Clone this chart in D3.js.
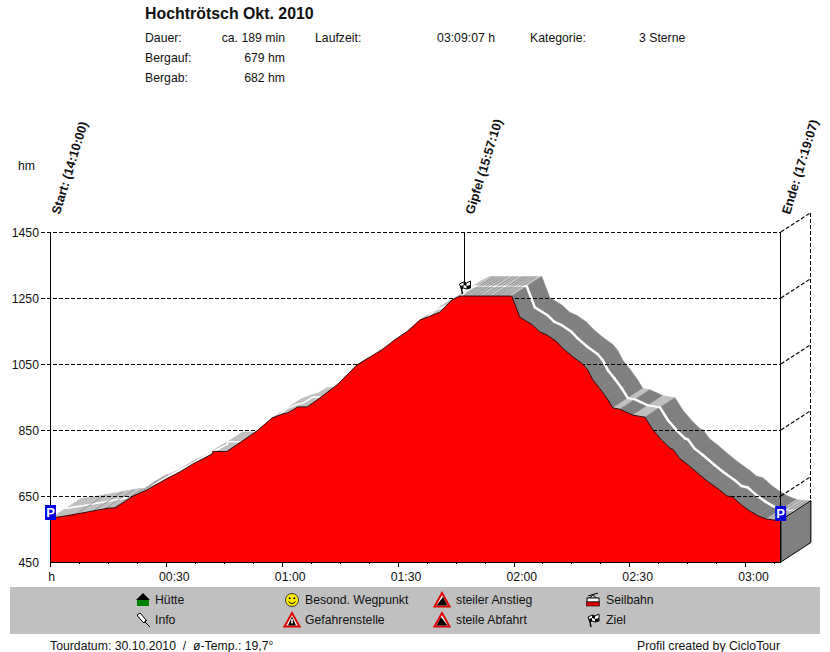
<!DOCTYPE html>
<html><head><meta charset="utf-8">
<script src="https://cdn.jsdelivr.net/npm/d3@7/dist/d3.min.js"></script>
<style>html,body{margin:0;padding:0;background:#fff}svg{display:block}text{font-family:"Liberation Sans",Arial,sans-serif;font-size:12.25px;fill:#111}</style>
</head><body><svg id="c" width="830" height="652"></svg>
<script>
const minutes=[0,4,8.4,12,15.4,16.6,19.2,21.3,24.9,30.1,33.5,36.8,39.5,41.8,42,45.6,48.2,53.4,57.3,59.9,61.4,64,66.4,69,74.1,79.3,82.7,86,89.1,92.5,95.6,98.2,100.8,103.9,106,119.4,121.5,124.8,126.6,128.5,131,132.6,135.2,137.8,139.1,140.4,142.2,144,145.6,147.4,150.8,153.9,156,158.2,160.4,161.2,162.9,165.1,168.1,170.3,173.3,175,176.7,178.9,181,183.2,185.4,187.5,189.1];
const elevation=[583,590,599,607,614,614,633,650,668,703,723,747,763,777,785,785,805,847,886,898,902,920,920,941,986,1047,1071,1095,1123,1150,1183,1195,1207,1244,1256,1256,1192,1168,1148,1138,1118,1098,1072,1050,1032,1002,976,947,917,913,895,889,850,820,795,791,764,744,714,693,668,651,646,623,605,590,580,577,577];
const streakMinutes=[6.5,11,14,16.2,20,22.5,46.5,50,107,107.8,108.7,109.5,110.5,112,113,114.5,115.3,116,117,118,186,187.2,188.2];
const yTicks=[450,650,850,1050,1250,1450];
const xLabels=[["h",0],["00:30",30],["01:00",60],["01:30",90],["02:00",120],["02:30",150],["03:00",180]];
const minorTicks=d3.range(0,189,7.5);
const endMinute=189.12, summitMinute=107.2;
const eventLabels=[["Start: (14:10:00)",0],["Gipfel (15:57:10)",summitMinute],["Ende: (17:19:07)",endMinute]];
const headerLeft=[["Dauer:","ca. 189 min"],["Bergauf:","679 hm"],["Bergab:","682 hm"]];
const headerExtra=[["Laufzeit:","03:09:07 h"],["Kategorie:","3 Sterne"]];
const legendItems=[["Hütte","hut"],["Info","pin"],["Besond. Wegpunkt","smile"],["Gefahrenstelle","danger"],["steiler Anstieg","up"],["steile Abfahrt","down"],["Seilbahn","cable"],["Ziel","flag"]];

const svg=d3.select("#c");
const x=d3.scaleLinear().domain([0,endMinute]).range([50.7,780.9]);
const y=d3.scaleLinear().domain([450,1450]).range([562,232]);
const DX=30,DY=-19.5;
const pts=minutes.map((m,i)=>({m,e:elevation[i],x:x(m),y:y(elevation[i])}));
const profileAt=d3.scaleLinear().domain(minutes).range(elevation);
const isLight=(a,b)=>(b.y-a.y)/(b.x-a.x)<0.2;

// ribbon segments
const ribbon=svg.append("g");
d3.pairs(pts).forEach(([a,b])=>{
  const c=isLight(a,b)?"#c0c0c0":"#808080";
  ribbon.append("path")
   .attr("d",`M${a.x},${a.y}L${b.x},${b.y}L${b.x+DX},${b.y+DY}L${a.x+DX},${a.y+DY}Z`)
   .attr("fill",c).attr("stroke",c).attr("stroke-width",0.6);
});
// centre track
d3.pairs(pts).forEach(([a,b])=>{
  svg.append("line").attr("x1",a.x+DX/2).attr("y1",a.y+DY/2).attr("x2",b.x+DX/2).attr("y2",b.y+DY/2)
   .attr("stroke","#fff").attr("stroke-linecap","round").attr("stroke-width",isLight(a,b)?1.6:2.5);
});
streakMinutes.forEach(m=>{
  const px=x(m),py=y(profileAt(m));
  svg.append("line").attr("x1",px).attr("y1",py).attr("x2",px+DX).attr("y2",py+DY)
   .attr("stroke","#8c8c8c").attr("stroke-width",0.8);
});

// grid
const grid=svg.append("g").attr("shape-rendering","crispEdges");
yTicks.slice(1).forEach(v=>{
  grid.append("line").attr("x1",41).attr("x2",x(endMinute)).attr("y1",y(v)).attr("y2",y(v))
   .attr("stroke","#000").attr("stroke-dasharray","4,2");
});
yTicks.slice(1).forEach(v=>{
  svg.append("line").attr("x1",x(endMinute)).attr("y1",y(v)).attr("x2",x(endMinute)+DX).attr("y2",y(v)+DY)
   .attr("stroke","#000").attr("stroke-dasharray","4,2").attr("stroke-width",1.1);
});
grid.append("line").attr("x1",x(endMinute)+DX).attr("x2",x(endMinute)+DX).attr("y1",y(1450)+DY).attr("y2",y(450)+DY)
  .attr("stroke","#000").attr("stroke-dasharray","4,2");

// red area
svg.append("path").attr("fill","#ff0000")
 .attr("d",d3.area().x(d=>d.x).y0(y(450)).y1(d=>d.y)(pts));
svg.append("path").attr("fill","none").attr("stroke","#200000").attr("stroke-width",0.9)
 .attr("d",d3.line().x(d=>d.x).y(d=>d.y)(pts));

// end wall
const ex=x(endMinute), ee=elevation[elevation.length-1];
svg.append("path").attr("fill","#808080").attr("stroke","#000")
 .attr("d",`M${ex},${y(450)}L${ex+DX},${y(450)+DY}L${ex+DX},${y(ee)+DY}L${ex},${y(ee)}Z`);

// axes
const ax=svg.append("g").attr("shape-rendering","crispEdges");
ax.append("line").attr("x1",x(0)).attr("x2",x(0)).attr("y1",y(1450)).attr("y2",y(450)+5).attr("stroke","#000");
ax.append("line").attr("x1",ex).attr("x2",ex).attr("y1",y(1450)).attr("y2",y(450)).attr("stroke","#000");
ax.append("line").attr("x1",x(0)).attr("x2",ex).attr("y1",y(450)).attr("y2",y(450)).attr("stroke","#000");
minorTicks.forEach(m=>ax.append("line").attr("x1",x(m)).attr("x2",x(m)).attr("y1",y(450)).attr("y2",y(450)+2).attr("stroke","#000"));
xLabels.forEach(([t,m])=>{
  if(m>0) ax.append("line").attr("x1",x(m)).attr("x2",x(m)).attr("y1",y(450)).attr("y2",y(450)+5).attr("stroke","#000");
  svg.append("text").attr("x",x(m)-(m>0?7.5:2.5)).attr("y",581).text(t);
});
yTicks.forEach(v=>svg.append("text").attr("x",39).attr("y",y(v)+4.5).attr("text-anchor","end").text(v));
svg.append("text").attr("x",18).attr("y",170).text("hm");

// summit stem
ax.append("line").attr("x1",x(summitMinute)).attr("x2",x(summitMinute)).attr("y1",y(1450)).attr("y2",282).attr("stroke","#000");

// event labels
eventLabels.forEach(([t,m])=>{
  svg.append("text").attr("transform",`translate(${x(m)+9},${215}) rotate(-73)`)
   .style("font-weight","bold").style("font-size","12.7px").text(t);
});

// icons
function icon(kind,cx,cy){
  const g=svg.append("g").attr("transform",`translate(${cx},${cy})`);
  if(kind==="hut"){
    g.append("rect").attr("x",-6).attr("y",-1).attr("width",12).attr("height",7).attr("fill","#008000");
    g.append("path").attr("d","M-7,0L0,-7L7,0Z").attr("fill","#000");
  } else if(kind==="pin"){
    g.append("path").attr("d","M-6,-5L-3,-7L3,0L1,3L-2,0Z").attr("fill","#fff").attr("stroke","#000");
    g.append("path").attr("d","M2,2L7,7").attr("stroke","#000").attr("fill","none");
    g.append("path").attr("d","M1,3L4,0").attr("stroke","#000");
  } else if(kind==="smile"){
    g.append("circle").attr("r",6.5).attr("fill","#ffee00").attr("stroke","#333");
    g.append("circle").attr("cx",-2.3).attr("cy",-1.8).attr("r",1).attr("fill","#000");
    g.append("circle").attr("cx",2.3).attr("cy",-1.8).attr("r",1).attr("fill","#000");
    g.append("path").attr("d","M-3.5,1.5Q0,5.5 3.5,1.5").attr("fill","none").attr("stroke","#000");
  } else if(kind==="danger"){
    g.append("path").attr("d","M0,-7L7.5,6.5L-7.5,6.5Z").attr("fill","#fff").attr("stroke","#e00000").attr("stroke-width",2);
    g.append("path").attr("d","M0,-3.5L4,5.5L-4,5.5Z").attr("fill","#000");
    g.append("rect").attr("x",-0.8).attr("y",-1).attr("width",1.6).attr("height",4.5).attr("fill","#fff");
  } else if(kind==="up"||kind==="down"){
    g.append("path").attr("d","M0,-7L7.5,6.5L-7.5,6.5Z").attr("fill","#fff").attr("stroke","#e00000").attr("stroke-width",2);
    g.append("path").attr("d",kind==="up"?"M-5.5,5.5L1,-3L5.5,5.5Z":"M-5.5,5.5L-1,-3L5.5,5.5Z").attr("fill","#000");
  } else if(kind==="cable"){
    g.append("path").attr("d","M-5,-4L5,-7M0,-5.5L-3,-2M0,-5.5L3,-2").attr("stroke","#000").attr("fill","none");
    g.append("rect").attr("x",-6).attr("y",-2).attr("width",12).attr("height",4).attr("fill","#fff").attr("stroke","#000");
    g.append("rect").attr("x",-6.5).attr("y",2).attr("width",13).attr("height",4).attr("fill","#e00000").attr("stroke","#000").attr("stroke-width",0.6);
  } else if(kind==="flag"){
    g.append("path").attr("d","M-4,-3L-2,7").attr("stroke","#000").attr("stroke-width",1.4);
    g.append("path").attr("d","M-5,-3L-1,-5L2,-4L6,-6L6,1L2,2L-1,1L-3,2Z").attr("fill","#fff").attr("stroke","#000");
    g.append("path").attr("d","M-1,-5L-1,-2L2,-1L2,-4ZM2,-1L6,-2L6,1L2,2ZM-4,-1L-1,-2L-1,1L-3,2Z").attr("fill","#000");
  }
  return g;
}
icon("flag",464.5,287);

// P markers
[[50.5],[780.7]].forEach(([px],i)=>{
  const top=i?506:505;
  svg.append("rect").attr("x",px-5.5).attr("y",top).attr("width",11).attr("height",15).attr("fill","#0000e0");
  svg.append("text").attr("x",px).attr("y",top+11.5).attr("text-anchor","middle").style("fill","#fff").style("font-weight","bold").style("font-size","13px").text("P");
});

// legend
svg.append("rect").attr("x",10).attr("y",587).attr("width",810).attr("height",47).attr("fill","#c0c0c0");
const legendX=[[143,155],[292,305],[442,456],[593,606]];
legendItems.forEach(([t,k],i)=>{
  const col=Math.floor(i/2),row=i%2;
  const ly=600+row*20;
  icon(k,legendX[col][0],ly);
  svg.append("text").attr("x",legendX[col][1]).attr("y",ly+4).text(t);
});

// header
svg.append("text").attr("x",145).attr("y",19).style("font-weight","bold").style("font-size","15.9px").text("Hochtrötsch Okt. 2010");
headerLeft.forEach(([a,b],i)=>{
  const by=42+i*20;
  svg.append("text").attr("x",145).attr("y",by).text(a);
  svg.append("text").attr("x",285).attr("y",by).attr("text-anchor","end").text(b);
});
svg.append("text").attr("x",315).attr("y",42).text(headerExtra[0][0]);
svg.append("text").attr("x",495).attr("y",42).attr("text-anchor","end").text(headerExtra[0][1]);
svg.append("text").attr("x",530).attr("y",42).text(headerExtra[1][0]);
svg.append("text").attr("x",639).attr("y",42).text(headerExtra[1][1]);

// footer
svg.append("text").attr("x",50).attr("y",650).style("white-space","pre").text("Tourdatum: 30.10.2010  /  ø-Temp.: 19,7°");
svg.append("text").attr("x",637).attr("y",650).text("Profil created by CicloTour");
</script></body></html>
